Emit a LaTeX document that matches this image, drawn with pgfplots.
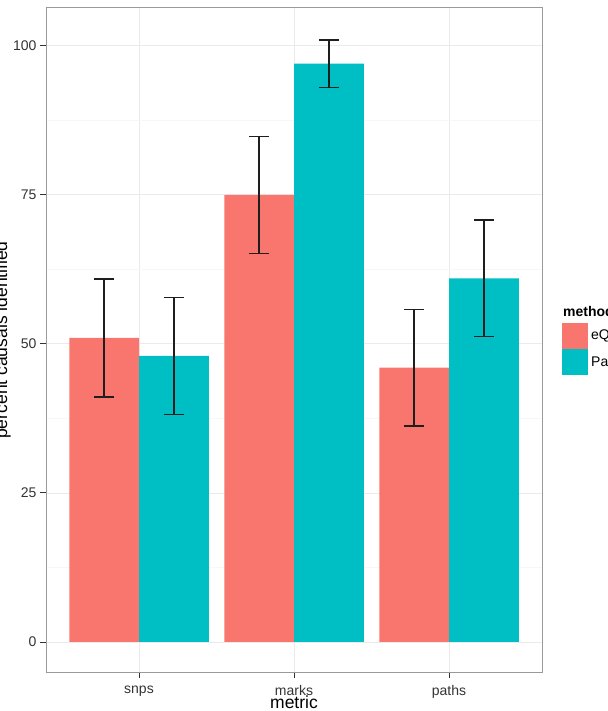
\documentclass[border=0pt]{standalone}
\usepackage{pgfplots}
\pgfplotsset{compat=1.18}
\usepackage{fontspec}
\setmainfont{Liberation Sans}
\definecolor{cred}{HTML}{F8766D}
\definecolor{cblue}{HTML}{00BFC4}
\definecolor{gridmaj}{HTML}{EBEBEB}
\definecolor{gridmin}{HTML}{F7F7F7}
\definecolor{bordc}{HTML}{9A9A9A}
\definecolor{tickc}{HTML}{333333}
\definecolor{errc}{HTML}{1E1E1E}

\pgfplotstableread{
x y e
1 51 9.9
2 75 9.8
3 46 9.8
}\eqtl
\pgfplotstableread{
x y e
1 48 9.8
2 97 4.0
3 61 9.8
}\paths

\begin{document}
\begin{tikzpicture}
\begin{axis}[
 at={(0pt,0pt)}, anchor=south west,
 scale only axis, width=496pt, height=664pt,
 xmin=0.4, xmax=3.6, ymin=-5.04, ymax=106.35,
 ybar, bar width=0.45,
 xtick={1,2,3}, xticklabels={snps,marks,paths},
 ytick={0,25,50,75,100},
 minor ytick={12.5,37.5,62.5,87.5},
 grid=both,
 major grid style={gridmaj, line width=0.8pt},
 minor grid style={gridmin, line width=0.5pt},
 axis line style={bordc, line width=1pt},
 tick align=outside, tick pos=left,
 major tick length=6pt, minor tick length=0pt,
 tick style={tickc, line width=0.9pt},
 ticklabel style={font=\fontsize{14}{16}\selectfont, text=tickc},
 xticklabel style={yshift=-4pt},
 /pgf/number format/assume math mode=true,
 xlabel={metric}, ylabel={percent causals identified},
 label style={font=\fontsize{17.5}{20}\selectfont},
 xlabel style={at={(axis description cs:0.5,-0.0557)}, anchor=base},
 ylabel style={at={(axis description cs:-0.0786,0.5)}, anchor=base},
]
\addplot[bar shift=-0.225, fill=cred, draw=none,
  error bars/.cd, y dir=both, y explicit,
  error bar style={line width=1.4pt, errc},
  error mark options={rotate=90, line width=1.4pt, mark size=10pt, errc}]
  table[x=x, y=y, y error=e] {\eqtl};
\addplot[bar shift=0.225, fill=cblue, draw=none,
  error bars/.cd, y dir=both, y explicit,
  error bar style={line width=1.4pt, errc},
  error mark options={rotate=90, line width=1.4pt, mark size=10pt, errc}]
  table[x=x, y=y, y error=e] {\paths};
\end{axis}
\fill[cred] (516pt,323pt) rectangle (542pt,349pt);
\fill[cblue] (516pt,297pt) rectangle (542pt,323pt);
\node[anchor=base west, inner sep=0pt, font=\bfseries\fontsize{14}{16}\selectfont] at (517pt,355pt) {method};
\node[anchor=west, inner sep=0pt, font=\fontsize{14}{16}\selectfont] at (545pt,336pt) {eQTL};
\node[anchor=west, inner sep=0pt, font=\fontsize{14}{16}\selectfont] at (545pt,310pt) {Paths};
\pgfresetboundingbox
\path[use as bounding box] (-46pt,-39pt) rectangle (561pt,672pt);
\end{tikzpicture}
\end{document}
